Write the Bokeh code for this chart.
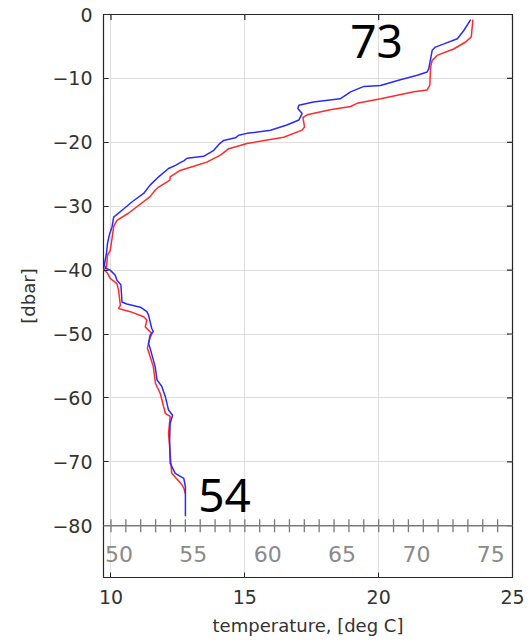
import math
from bokeh.plotting import figure
from bokeh.models import FixedTicker, Span, ColumnDataSource
from bokeh.core.properties import value
from bokeh.embed import file_html
from bokeh.resources import INLINE

# ---- data ----
blue_depth = [-0.8, -2.5, -3.8, -4.6, -5.1, -5.6, -8.5, -9.0, -9.5, -10.2, -11.1, -11.25, -12.1,
              -13.2, -13.7, -14.2, -14.7, -15.5, -16.5, -17.3, -18.1, -18.6, -18.9, -19.3, -19.7,
              -20.2, -21.25, -22.2, -22.5, -22.9, -23.1, -23.6, -24.1, -25.4, -26.7, -28.0, -29.3,
              -30.4, -31.7, -33.2, -34.3, -35.8, -37.4, -39.2, -39.7, -40.0, -40.8, -41.6, -42.3,
              -45.0, -45.3, -45.8, -46.5, -47.0, -47.5, -49.1, -49.6, -50.2, -51.5, -52.2, -55.1,
              -57.2, -58.2, -59.8, -61.9, -62.7, -64.0, -66.6, -70.2, -71.8, -72.6, -73.9, -78.5]
blue_temp = [23.44, 23.18, 22.94, 22.44, 22.12, 22.0, 21.87, 21.81, 21.44, 20.81, 20.07, 19.45, 18.95,
             18.56, 17.56, 17.02, 16.98, 17.14, 17.02, 16.57, 15.96, 15.08, 14.77, 14.65, 14.21,
             14.06, 13.84, 13.46, 12.84, 12.72, 12.62, 12.41, 12.15, 11.78, 11.46, 11.22, 10.79,
             10.48, 10.1, 10.04, 9.95, 9.87, 9.83, 9.75, 9.8, 9.97, 10.16, 10.22, 10.37,
             10.41, 10.59, 11.1, 11.34, 11.40, 11.43, 11.52, 11.58, 11.46, 11.4, 11.46, 11.65,
             11.72, 11.90, 12.03, 12.15, 12.30, 12.21, 12.19, 12.21, 12.40, 12.72, 12.78, 12.78]

red_depth = [-0.8, -3.5, -4.3, -5.4, -6.4, -7.2, -8.2, -11.1, -11.8, -12.1, -13.2, -13.9, -14.4,
             -14.9, -15.7, -16.1, -17.6, -18.1, -19.2, -20.2, -21.0, -22.0, -23.1, -23.75, -24.4,
             -25.4, -25.9, -27.0, -27.5, -28.5, -31.1, -32.2, -33.2, -35.0, -36.9, -37.7, -39.6,
             -39.9, -40.5, -41.3, -42.1, -43.1, -45.5, -46.0, -46.5, -47.3, -47.8, -48.9, -49.9,
             -50.7, -52.2, -55.1, -57.7, -59.3, -62.4, -62.9, -65.5, -71.8, -73.6, -74.1, -75.0]
red_temp = [23.52, 23.46, 23.25, 22.80, 22.18, 22.0, 21.94, 21.91, 21.81, 21.32, 20.07, 19.19, 18.95,
            18.19, 17.33, 17.17, 17.23, 17.14, 16.45, 15.08, 14.40, 14.09, 13.58, 13.09, 12.58,
            12.21, 12.2, 11.78, 11.65, 11.46, 10.65, 10.22, 10.10, 10.04, 9.97, 9.87, 9.83,
            9.73, 9.87, 9.97, 10.22, 10.28, 10.35, 10.28, 10.72, 11.22, 11.34, 11.28, 11.53,
            11.45, 11.36, 11.58, 11.66, 11.84, 12.03, 12.21, 12.15, 12.27, 12.65, 12.72, 12.78]

x_ticks_c = [10, 15, 20, 25]
y_ticks = [-80, -70, -60, -50, -40, -30, -20, -10, 0]
f_minor_ticks = list(range(50, 77))
f_label_values = [50, 55, 60, 65, 70, 75]
f_axis_depth = -80

annot_text = ["73", "54"]
annot_temp = [19.92, 14.24]
annot_depth = [-4.3, -75.3]

X_START, X_END = 9.72, 25
Y_START, Y_END = -88.1, 0


def f_to_c(f):
    return (f - 32.0) * 5.0 / 9.0


DARK = "#262626"
FONT = "DejaVu Sans"

p = figure(width=531, height=640, x_range=(X_START, X_END), y_range=(Y_START, Y_END),
           output_backend="svg", toolbar_location=None,
           min_border_left=103, min_border_right=19, min_border_top=14, min_border_bottom=63)
p.background_fill_color = "white"
p.border_fill_color = "white"
p.outline_line_color = DARK
p.outline_line_width = 1.2

# grid
p.xgrid.ticker = FixedTicker(ticks=x_ticks_c)
p.ygrid.ticker = FixedTicker(ticks=y_ticks)
p.grid.grid_line_color = "#dedede"
p.grid.grid_line_width = 1

# bottom axis
xa = p.xaxis[0]
xa.ticker = FixedTicker(ticks=x_ticks_c)
xa.axis_label = "temperature, [deg C]"
# left axis
ya = p.yaxis[0]
ya.ticker = FixedTicker(ticks=y_ticks)
ya.axis_label = "[dbar]"

for ax in (xa, ya):
    ax.axis_line_color = None
    ax.major_tick_in = 5
    ax.major_tick_out = 0
    ax.major_tick_line_color = DARK
    ax.minor_tick_line_color = None
    ax.major_label_text_font = FONT
    ax.major_label_text_font_size = "19px"
    ax.major_label_text_color = "#333333"
    ax.axis_label_text_font = FONT
    ax.axis_label_text_font_size = "18px"
    ax.axis_label_text_font_style = "normal"
    ax.axis_label_text_color = "#333333"
xa.major_label_standoff = 12
xa.axis_label_standoff = 8
ya.major_label_standoff = 11
ya.axis_label_standoff = 10

# right / top inward ticks (box style), drawn as markers clipped by the frame
rt_src = ColumnDataSource(dict(x=[X_END] * len(y_ticks), y=y_ticks))
p.scatter("x", "y", source=rt_src, marker="dash", size=11, line_color=DARK, line_width=1.2)
tp_src = ColumnDataSource(dict(x=x_ticks_c, y=[Y_END] * len(x_ticks_c)))
p.scatter("x", "y", source=tp_src, marker="dash", angle=math.pi / 2, size=11,
          line_color=DARK, line_width=1.2)

# Fahrenheit axis inside the plot
p.add_layout(Span(location=f_axis_depth, dimension="width", line_color="#7a7a7a", line_width=1.5))
f_tick_src = ColumnDataSource(dict(x=[f_to_c(f) for f in f_minor_ticks],
                                   y=[f_axis_depth] * len(f_minor_ticks)))
p.scatter("x", "y", source=f_tick_src, marker="dash", angle=math.pi / 2, size=13,
          line_color="#7a7a7a", line_width=1.3)
f_lab_src = ColumnDataSource(dict(x=[f_to_c(f) for f in f_label_values],
                                  y=[f_axis_depth] * len(f_label_values),
                                  t=[str(f) for f in f_label_values]))
p.text("x", "y", text="t", source=f_lab_src, x_offset=-6, y_offset=28,
       text_align="left", text_baseline="alphabetic",
       text_font=value(FONT), text_font_size="22px", text_color="#8a8a8a")

# profiles
p.line(red_temp, red_depth, line_color="#ff2a2a", line_width=1.5)
p.line(blue_temp, blue_depth, line_color="#2a2aff", line_width=1.5)

# annotations
an_src = ColumnDataSource(dict(x=annot_temp, y=annot_depth, t=annot_text))
p.text("x", "y", text="t", source=an_src, text_align="center", text_baseline="alphabetic",
       text_font=value("Noto Sans"), text_font_size="46px", text_color="black")

open("out.html", "w").write(file_html(p, INLINE))
